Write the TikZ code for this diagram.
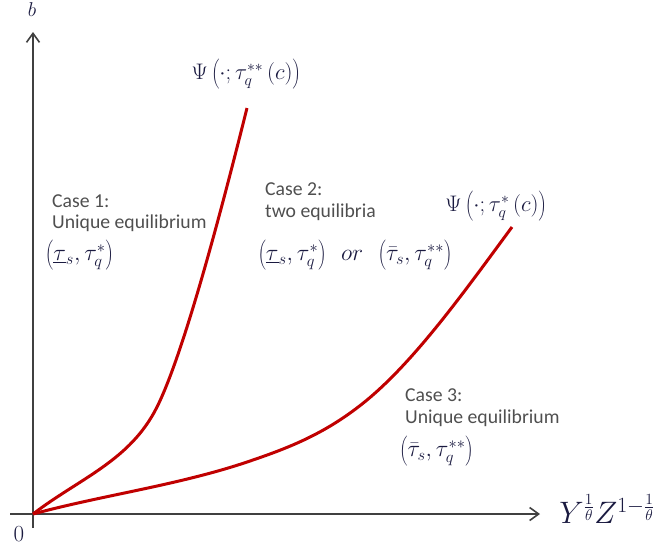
\RequirePackage{fix-cm}
\documentclass[tikz,border=0pt]{standalone}
\usepackage{fontspec}
\newfontfamily\calib{Carlito}
\usetikzlibrary{arrows.meta}
\definecolor{curvered}{HTML}{C00000}
\definecolor{axisgray}{HTML}{404040}
\definecolor{textgray}{HTML}{4F4F4F}
\definecolor{mathblue}{HTML}{1A1A40}
\begin{document}
\begin{tikzpicture}[x=1pt,y=-1pt,
  axis/.style={draw=axisgray, line width=1.6pt, -{Straight Barb[length=9pt,width=13pt,line width=1.6pt]}},
  curve/.style={draw=curvered, line width=3pt},
  casetext/.style={font=\calib\fontsize{19.7}{24}\selectfont, text=textgray, anchor=west, inner sep=0pt},
  mathlbl/.style={font=\fontsize{22.5}{26}\selectfont, text=mathblue, inner sep=0pt},
  casemath/.style={mathlbl, font=\fontsize{23.5}{26}\selectfont},
]
\useasboundingbox (0,0) rectangle (660,550);
\coordinate (O) at (33,514);
\coordinate (ybot) at (33,528);
\coordinate (ytop) at (33,32);
\coordinate (xleft) at (10,514);
\coordinate (xright) at (540,514);
\draw[axis] (ybot) -- (ytop);
\draw[axis] (xleft) -- (xright);
% curves
\coordinate (c1mid) at (157,407);
\coordinate (c1end) at (247,108);
\coordinate (c2a) at (250,461);
\coordinate (c2b) at (367,400);
\coordinate (c2end) at (512,227);
\draw[curve] (O) .. controls (80,478) and (130,461) .. (c1mid)
                 .. controls (184,353) and (222,208) .. (c1end);
\draw[curve] (O) .. controls (103,495) and (180,485) .. (c2a)
                 .. controls (290,447.4) and (327,433) .. (c2b)
                 .. controls (417,358.5) and (467,288) .. (c2end);
% axis labels
\node[mathlbl, font=\fontsize{20}{24}\selectfont] (b) at (32,10) {$b$};
\node[mathlbl, font=\fontsize{23}{26}\selectfont] (zero) at (19,534) {$0$};
\node[mathlbl, font=\fontsize{31}{34}\selectfont] (xl) at (607,509) {$Y^{\frac{1}{\theta}}Z^{1-\frac{1}{\theta}}$};
% curve labels
\node[mathlbl] (psi2) at (246,74) {$\Psi\left(\cdot;\tau_q^{**}\left(c\right)\right)$};
\node[mathlbl] (psi1) at (496,206) {$\Psi\left(\cdot;\tau_q^{*}\left(c\right)\right)$};
% case 1
\node[casetext] (c1a) at (52,201) {Case 1:};
\node[casetext] (c1b) at (52,223) {Unique equilibrium};
\node[casemath] (c1m) at (79.5,255) {$\left(\underline{\tau}_s,\tau_q^{*}\right)$};
% case 2
\node[casetext] (c2ta) at (265,189) {Case 2:};
\node[casetext] (c2tb) at (265,212) {two equilibria};
\node[casemath] (c2m) at (355,255) {$\left(\underline{\tau}_s,\tau_q^{*}\right)\ \,or\ \,\left(\bar{\tau}_s,\tau_q^{**}\right)$};
% case 3
\node[casetext] (c3a) at (405,395) {Case 3:};
\node[casetext] (c3b) at (405,418) {Unique equilibrium};
\node[casemath] (c3m) at (436.5,451) {$\left(\bar{\tau}_s,\tau_q^{**}\right)$};
\end{tikzpicture}
\end{document}
